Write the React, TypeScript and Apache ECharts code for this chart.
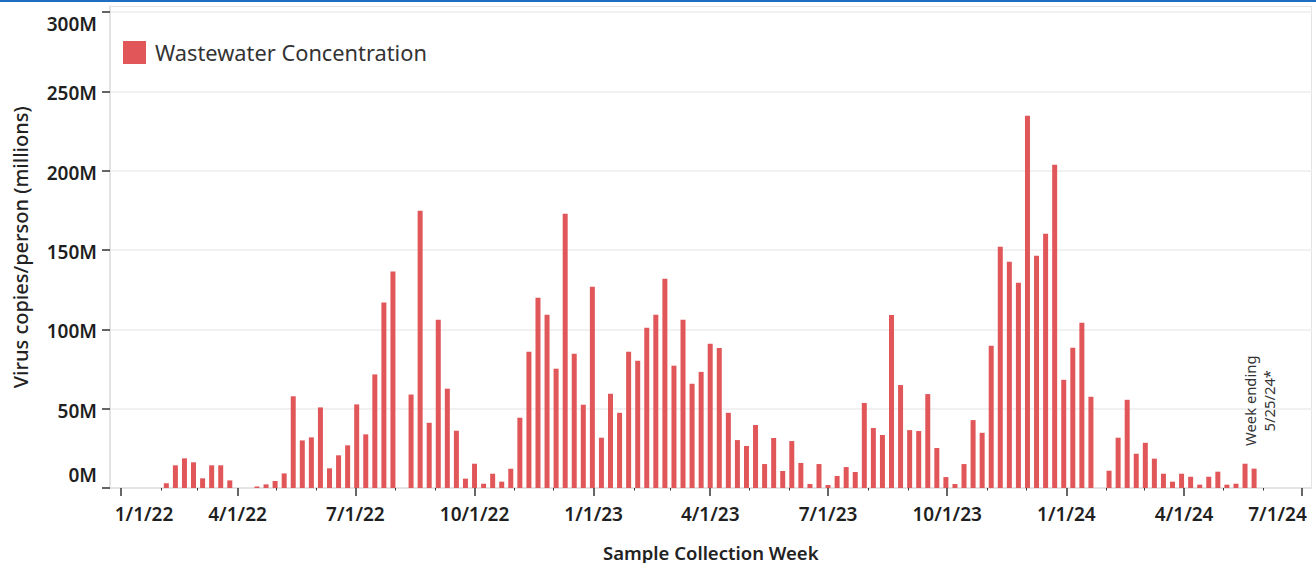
import React, { useEffect, useRef } from 'react';
import * as echarts from 'echarts';

// ---- data ----
const SERIES_NAME = 'Wastewater Concentration';
const X_TITLE = 'Sample Collection Week';
const Y_TITLE = 'Virus copies/person (millions)';

const WEEK_ENDING: string[] = [
  '2022-02-05', '2022-02-12', '2022-02-19', '2022-02-26',
  '2022-03-05', '2022-03-12', '2022-03-19', '2022-03-26',
  '2022-04-02', '2022-04-09', '2022-04-16', '2022-04-23', '2022-04-30',
  '2022-05-07', '2022-05-14', '2022-05-21', '2022-05-28',
  '2022-06-04', '2022-06-11', '2022-06-18', '2022-06-25',
  '2022-07-02', '2022-07-09', '2022-07-16', '2022-07-23', '2022-07-30',
  '2022-08-06', '2022-08-13', '2022-08-20', '2022-08-27',
  '2022-09-03', '2022-09-10', '2022-09-17', '2022-09-24',
  '2022-10-01', '2022-10-08', '2022-10-15', '2022-10-22', '2022-10-29',
  '2022-11-05', '2022-11-12', '2022-11-19', '2022-11-26',
  '2022-12-03', '2022-12-10', '2022-12-17', '2022-12-24', '2022-12-31',
  '2023-01-07', '2023-01-14', '2023-01-21', '2023-01-28',
  '2023-02-04', '2023-02-11', '2023-02-18', '2023-02-25',
  '2023-03-04', '2023-03-11', '2023-03-18', '2023-03-25',
  '2023-04-01', '2023-04-08', '2023-04-15', '2023-04-22', '2023-04-29',
  '2023-05-06', '2023-05-13', '2023-05-20', '2023-05-27',
  '2023-06-03', '2023-06-10', '2023-06-17', '2023-06-24',
  '2023-07-01', '2023-07-08', '2023-07-15', '2023-07-22', '2023-07-29',
  '2023-08-05', '2023-08-12', '2023-08-19', '2023-08-26',
  '2023-09-02', '2023-09-09', '2023-09-16', '2023-09-23', '2023-09-30',
  '2023-10-07', '2023-10-14', '2023-10-21', '2023-10-28',
  '2023-11-04', '2023-11-11', '2023-11-18', '2023-11-25',
  '2023-12-02', '2023-12-09', '2023-12-16', '2023-12-23', '2023-12-30',
  '2024-01-06', '2024-01-13', '2024-01-20', '2024-01-27',
  '2024-02-03', '2024-02-10', '2024-02-17', '2024-02-24',
  '2024-03-02', '2024-03-09', '2024-03-16', '2024-03-23', '2024-03-30',
  '2024-04-06', '2024-04-13', '2024-04-20', '2024-04-27',
  '2024-05-04', '2024-05-11', '2024-05-18', '2024-05-25',
];

// virus copies per person, millions (null = no sample that week)
const CONCENTRATION_M: (number | null)[] = [
  3.0, 14.3, 18.7, 16.2,
  6.1, 14.3, 14.3, 4.8,
  null, null, 1.0, 2.3, 4.4,
  9.2, 57.8, 30.0, 31.9,
  50.8, 12.4, 20.6, 26.9,
  52.7, 33.8, 71.6, 117.0, 136.5,
  null, 58.9, 174.8, 41.1,
  106.0, 62.6, 36.1, 5.9,
  15.3, 2.7, 9.0, 4.0, 12.2,
  44.3, 85.9, 119.9, 109.2,
  75.2, 172.8, 84.6, 52.5, 126.8,
  31.7, 59.4, 47.4, 85.9,
  80.2, 101.0, 109.2, 131.9,
  77.1, 106.0, 65.7, 73.2,
  90.9, 88.3, 47.4, 30.2, 26.5,
  39.7, 15.1, 31.5, 10.7,
  29.6, 15.8, 2.5, 15.1,
  1.9, 7.6, 13.2, 10.1, 53.6,
  37.8, 33.4, 109.0, 64.9,
  36.5, 35.9, 59.2, 25.2, 6.9,
  2.5, 15.1, 42.8, 34.8,
  89.6, 152.0, 142.6, 129.4,
  234.6, 146.4, 160.2, 203.7, 68.2,
  88.4, 104.2, 57.5, null,
  10.9, 31.7, 55.6, 21.6,
  28.5, 18.5, 9.0, 4.0, 9.0,
  7.1, 2.1, 7.1, 10.3,
  2.1, 2.7, 15.3, 12.2,
];

const QUARTER_TICKS: string[] = [
  '2022-01-01', '2022-04-01', '2022-07-01', '2022-10-01',
  '2023-01-01', '2023-04-01', '2023-07-01', '2023-10-01',
  '2024-01-01', '2024-04-01', '2024-07-01',
];
const MONTH_TICKS: string[] = [
  '2022-02-01', '2022-03-01', '2022-05-01', '2022-06-01', '2022-08-01', '2022-09-01', '2022-11-01', '2022-12-01',
  '2023-02-01', '2023-03-01', '2023-05-01', '2023-06-01', '2023-08-01', '2023-09-01', '2023-11-01', '2023-12-01',
  '2024-02-01', '2024-03-01', '2024-05-01', '2024-06-01',
];
const Y_TICKS: number[] = [0, 50, 100, 150, 200, 250, 300];
const X_RANGE: string[] = ['2021-12-23T12:00:00Z', '2024-07-08T08:00:00Z'];
const Y_MAX = 303.5;

const ANNOTATION_TEXT = 'Week ending\n5/25/24*';
const ANNOTATION_AT: [string, number] = ['2024-05-29T12:00:00Z', 55];

// ---- helpers ----
const FONT = '"Noto Sans", "Open Sans", sans-serif';
const toTime = (s: string) => Date.parse(s.length === 10 ? s + 'T00:00:00Z' : s);
const fmtDate = (t: number) => {
  const d = new Date(t);
  return `${d.getUTCMonth() + 1}/${d.getUTCDate()}/${String(d.getUTCFullYear()).slice(2)}`;
};

export default function App() {
  const ref = useRef<HTMLDivElement>(null);

  useEffect(() => {
    if (!ref.current) return;
    const chart = echarts.init(ref.current, null, { renderer: 'svg' });

    const quarterTimes = QUARTER_TICKS.map(toTime);
    const monthTimes = MONTH_TICKS.map(toTime);
    const xMin = toTime(X_RANGE[0]);
    const xMax = toTime(X_RANGE[1]);
    const data = WEEK_ENDING.map((d, i) => [toTime(d), CONCENTRATION_M[i]]);

    const tickText = { fontFamily: FONT, fontSize: 19, fontWeight: 600, color: '#1f1f1f' };
    const axisGray = '#e3e3e3';

    chart.setOption({
      animation: false,
      textStyle: { fontFamily: FONT },
      graphic: [
        {
          type: 'rect',
          left: 0,
          top: 0,
          silent: true,
          shape: { width: 1316, height: 2 },
          style: { fill: '#1f6ec1' },
        },
      ],
      legend: {
        left: 123,
        top: 41,
        padding: 0,
        itemWidth: 23,
        itemHeight: 23,
        icon: 'rect',
        selectedMode: false,
        data: [SERIES_NAME],
        textStyle: { fontFamily: FONT, fontSize: 21.8, color: '#333', padding: [0, 0, 0, 4] },
      },
      grid: {
        left: 110,
        right: 4.5,
        top: 6.5,
        bottom: 75,
        show: true,
        borderColor: axisGray,
        borderWidth: 1,
        containLabel: false,
        outerBoundsMode: 'none',
      },
      xAxis: [
        {
          type: 'value',
          min: xMin,
          max: xMax,
          position: 'bottom',
          name: X_TITLE,
          nameLocation: 'middle',
          nameGap: 54,
          nameMoveOverlap: false,
          nameTextStyle: { fontFamily: FONT, fontSize: 18.5, lineHeight: 20, fontWeight: 600, color: '#222' },
          axisLine: { show: true, lineStyle: { color: axisGray, width: 2 } },
          axisTick: { show: true, customValues: quarterTimes, length: 8, lineStyle: { color: '#333', width: 1.5 } },
          axisLabel: {
            show: true,
            customValues: quarterTimes,
            margin: 16,
            ...tickText,
            formatter: (v: number) => {
              const i = quarterTimes.indexOf(v);
              const s = fmtDate(v);
              if (i === 0) return `{first|${s}}`;
              if (i === quarterTimes.length - 1) return `{last|${s}}`;
              return `{n|${s}}`;
            },
            rich: {
              first: { ...tickText, padding: [0, 0, 0, 46] },
              last: { ...tickText, padding: [0, 49, 0, 0] },
              n: { ...tickText },
            },
          },
          splitLine: { show: false },
        },
        {
          type: 'value',
          min: xMin,
          max: xMax,
          position: 'bottom',
          axisLine: { show: false },
          axisTick: { show: true, customValues: monthTimes, length: 2.5, lineStyle: { color: '#333', width: 1 } },
          axisLabel: { show: false },
          splitLine: { show: false },
        },
      ],
      yAxis: {
        type: 'value',
        min: 0,
        max: Y_MAX,
        interval: 50,
        name: Y_TITLE,
        nameLocation: 'middle',
        nameGap: 80,
        nameMoveOverlap: false,
        nameTextStyle: { fontFamily: FONT, fontSize: 20, fontWeight: 500, color: '#222' },
        axisLine: { show: true, lineStyle: { color: axisGray, width: 2 } },
        axisTick: { show: true, customValues: Y_TICKS, length: 8, lineStyle: { color: '#333', width: 1.5 } },
        axisLabel: {
          show: true,
          customValues: Y_TICKS,
          margin: 13,
          ...tickText,
          formatter: (v: number) => {
            const s = `${v}M`;
            if (v === Y_TICKS[Y_TICKS.length - 1]) return `{top|${s}}`;
            if (v === Y_TICKS[0]) return `{bot|${s}}`;
            return `{n|${s}}`;
          },
          rich: {
            top: { ...tickText, padding: [23, 0, 0, 0] },
            bot: { ...tickText, padding: [0, 0, 26, 0] },
            n: { ...tickText, padding: [4, 0, 0, 0] },
          },
        },
        splitLine: { show: true, lineStyle: { color: '#f1f1f1', width: 2 } },
      },
      series: [
        {
          type: 'bar',
          name: SERIES_NAME,
          data,
          barWidth: 5,
          xAxisIndex: 0,
          yAxisIndex: 0,
          itemStyle: { color: '#e15759' },
          markPoint: {
            silent: true,
            symbol: 'rect',
            symbolSize: 1,
            itemStyle: { color: 'rgba(0,0,0,0)' },
            label: {
              show: true,
              position: 'inside',
              rotate: 90,
              formatter: ANNOTATION_TEXT,
              fontFamily: FONT,
              fontSize: 14.8,
              lineHeight: 19,
              color: '#333',
            },
            data: [{ coord: [toTime(ANNOTATION_AT[0]), ANNOTATION_AT[1]] }],
          },
        },
      ],
    });

    return () => chart.dispose();
  }, []);

  return (
    <div
      ref={ref}
      style={{ position: 'fixed', left: 0, top: 0, width: 1316, height: 563, background: '#fff' }}
    />
  );
}
